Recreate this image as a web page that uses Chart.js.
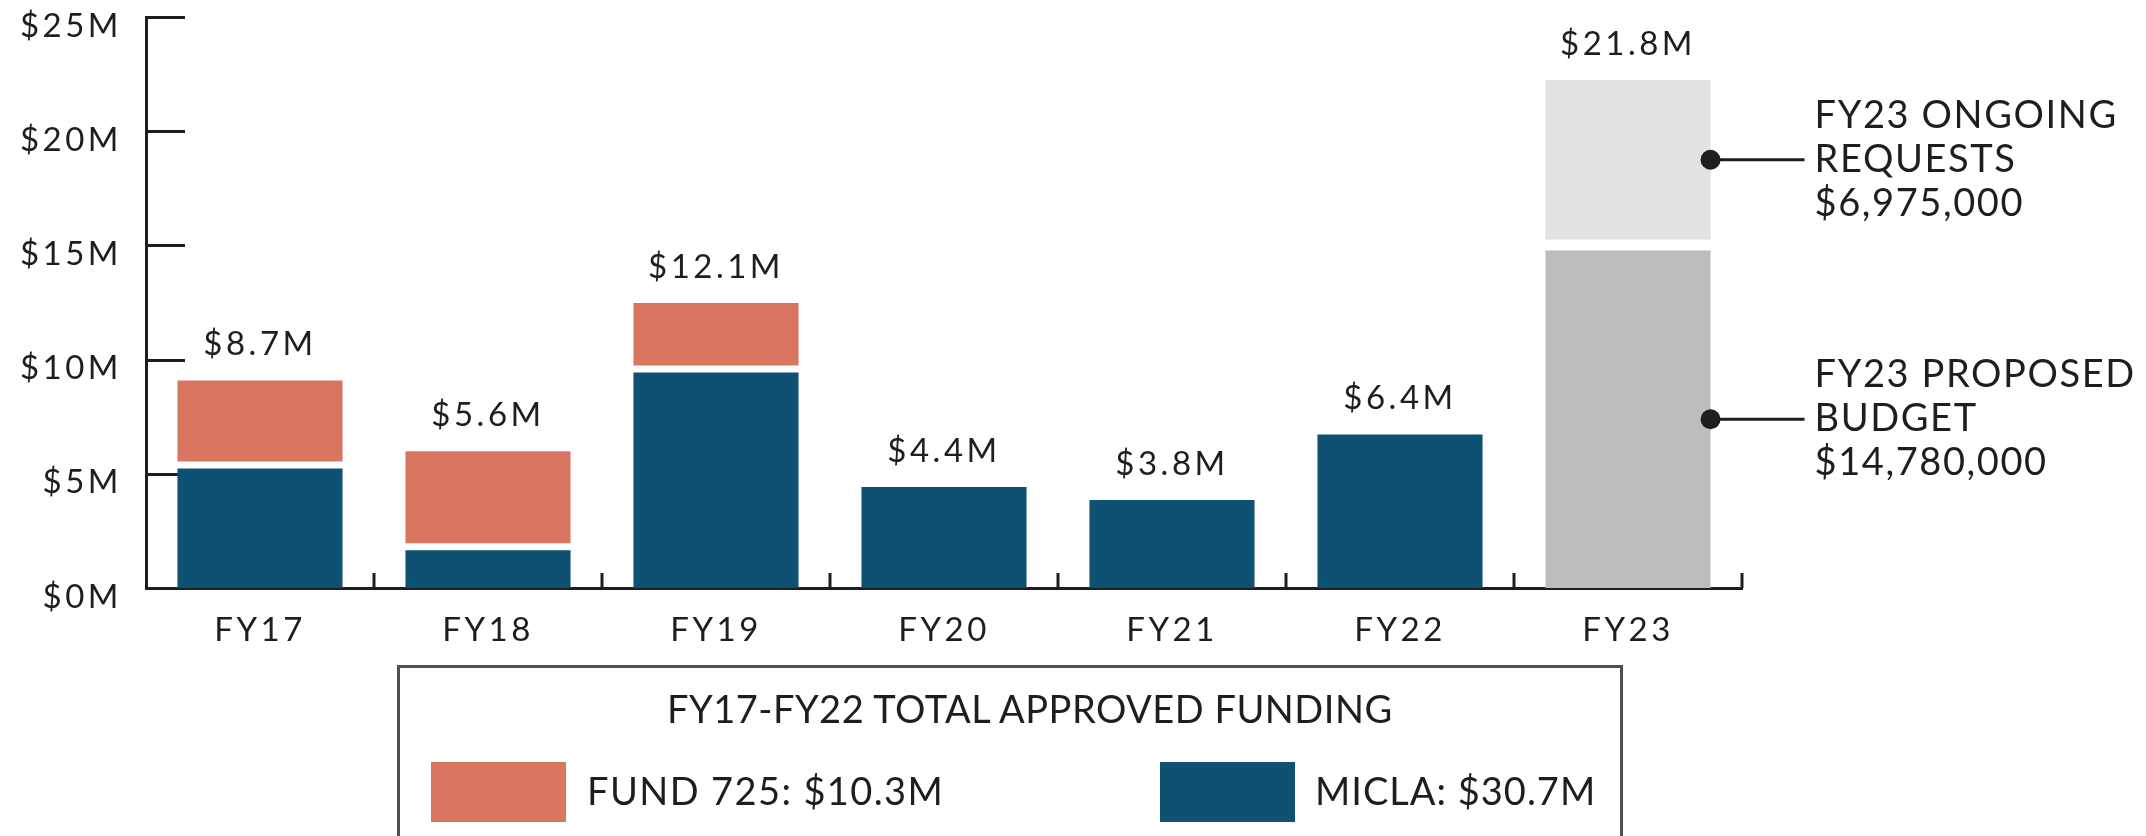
<!DOCTYPE html>
<html>
<head>
<meta charset="utf-8">
<script src="https://cdn.jsdelivr.net/npm/chart.js@4/dist/chart.umd.min.js"></script>
<style>
html,body{margin:0;padding:0;background:#fff;}
#wrap{position:relative;width:2146px;height:836px;overflow:hidden;background:#fff;}
#c{position:absolute;left:0;top:0;}
.box{position:absolute;left:397px;top:665px;width:1226px;height:320px;border:3px solid #4f4f4f;box-sizing:border-box;}
.lt{position:absolute;font-family:Lato,sans-serif;font-size:38px;line-height:38px;color:#1e1e1e;white-space:nowrap;}
.sw{position:absolute;width:135px;height:60px;}
</style>
</head>
<body>
<div id="wrap">
  <canvas id="c" width="2146" height="836"></canvas>
  <div class="box"></div>
  <div class="lt" id="lgTitle" style="left:667px;top:689px;letter-spacing:0.5px;"></div>
  <div class="sw" id="sw0" style="left:431px;top:762px;"></div>
  <div class="lt" id="lg0" style="left:587px;top:771px;letter-spacing:1.4px;"></div>
  <div class="sw" id="sw1" style="left:1160px;top:762px;"></div>
  <div class="lt" id="lg1" style="left:1315px;top:771px;letter-spacing:1px;"></div>
</div>
<script>
// ---- data ----
const categories = ["FY17", "FY18", "FY19", "FY20", "FY21", "FY22", "FY23"];
const miclaValues = [5.23, 1.65, 9.43, 4.42, 3.85, 6.72, null];
const fund725Values = [3.55, 4.03, 2.74, null, null, null, null];
const proposedValues = [null, null, null, null, null, null, 14.78];
const ongoingValues = [null, null, null, null, null, null, 6.975];
const totalLabels = ["$8.7M", "$5.6M", "$12.1M", "$4.4M", "$3.8M", "$6.4M", "$21.8M"];
const yTickLabels = ["$0M", "$5M", "$10M", "$15M", "$20M", "$25M"];
const legendTitle = "FY17-FY22 TOTAL APPROVED FUNDING";
const legendItems = ["FUND 725: $10.3M", "MICLA: $30.7M"];
const ongoingNote = ["FY23 ONGOING", "REQUESTS", "$6,975,000"];
const proposedNote = ["FY23 PROPOSED", "BUDGET", "$14,780,000"];

// ---- styles ----
const BLUE = '#0e5173', SALMON = '#da7562', GREY = '#bcbdbf', LIGHT = '#e1e2e4', INK = '#1e1e1e';

document.getElementById('lgTitle').textContent = legendTitle;
document.getElementById('lg0').textContent = legendItems[0];
document.getElementById('lg1').textContent = legendItems[1];
document.getElementById('sw0').style.background = SALMON;
document.getElementById('sw1').style.background = BLUE;

// lift upper stacked segments to leave a white gap
const liftPlugin = {
  id: 'lift',
  afterDatasetsUpdate(chart) {
    chart.data.datasets.forEach((ds, i) => {
      if (!ds.lift) return;
      chart.getDatasetMeta(i).data.forEach(el => { el.y -= ds.lift; el.base -= ds.lift; });
    });
  }
};

const tickPlugin = {
  id: 'ticksInside',
  beforeDraw(chart) { chart.ctx.letterSpacing = '3.5px'; },
  beforeDatasetsDraw(chart) {
    const ctx = chart.ctx, a = chart.chartArea, xs = chart.scales.x, ys = chart.scales.y;
    ctx.save();
    ctx.strokeStyle = INK; ctx.lineWidth = 3;
    ys.ticks.forEach(t => {
      const y = Math.round(ys.getPixelForValue(t.value)) + 0.5;
      ctx.beginPath(); ctx.moveTo(a.left, y); ctx.lineTo(a.left + 39, y); ctx.stroke();
    });
    const step = xs.getPixelForValue(1) - xs.getPixelForValue(0);
    for (let i = 0; i < categories.length; i++) {
      const bx = xs.getPixelForValue(i) + step / 2;
      ctx.beginPath(); ctx.moveTo(bx, a.bottom); ctx.lineTo(bx, a.bottom - 15); ctx.stroke();
    }
    ctx.restore();
  },
  afterDatasetsDraw(chart) {
    const ctx = chart.ctx;
    ctx.save();
    ctx.fillStyle = INK;
    ctx.font = '33px Lato';
    ctx.letterSpacing = '3.5px';
    ctx.textAlign = 'center';
    ctx.textBaseline = 'middle';
    for (let i = 0; i < categories.length; i++) {
      let top = Infinity, x = null;
      chart.data.datasets.forEach((ds, d) => {
        if (ds.data[i] == null) return;
        const el = chart.getDatasetMeta(d).data[i];
        if (el.y < top) { top = el.y; x = el.x; }
      });
      if (x !== null) ctx.fillText(totalLabels[i], x, top - 36);
    }
    // annotations for FY23
    const notes = [[3, ongoingNote], [2, proposedNote]];
    ctx.font = '38px Lato';
    ctx.letterSpacing = '1.6px';
    ctx.textAlign = 'left';
    notes.forEach(([d, lines]) => {
      const el = chart.getDatasetMeta(d).data[6];
      const mid = (el.y + el.base) / 2;
      const rx = el.x + el.width / 2;
      ctx.strokeStyle = INK; ctx.lineWidth = 3;
      ctx.beginPath(); ctx.moveTo(rx, mid); ctx.lineTo(rx + 94, mid); ctx.stroke();
      ctx.beginPath(); ctx.arc(rx, mid, 10, 0, Math.PI * 2); ctx.fill();
      lines.forEach((t, k) => ctx.fillText(t, rx + 104, mid + (k - 1) * 44));
    });
    ctx.restore();
  }
};

Chart.defaults.font.family = 'Lato';
Chart.defaults.color = INK;

new Chart(document.getElementById('c'), {
  type: 'bar',
  data: {
    labels: categories,
    datasets: [
      { label: 'MICLA', data: miclaValues, backgroundColor: BLUE },
      { label: 'Fund 725', data: fund725Values, backgroundColor: SALMON, lift: 7 },
      { label: 'FY23 Proposed Budget', data: proposedValues, backgroundColor: GREY },
      { label: 'FY23 Ongoing Requests', data: ongoingValues, backgroundColor: LIGHT, lift: 11 }
    ]
  },
  options: {
    responsive: false,
    animation: false,
    devicePixelRatio: 1,
    categoryPercentage: 1,
    barPercentage: 0.724,
    layout: { padding: { top: 17, right: 404, bottom: 0, left: 0 } },
    plugins: { legend: { display: false }, tooltip: { enabled: false } },
    scales: {
      x: {
        stacked: true, z: 1,
        grid: { display: false, drawTicks: false },
        border: { display: true, color: INK, width: 3 },
        ticks: { padding: 26, font: { size: 33, lineHeight: 1 }, color: INK },
        afterFit(s) { s.height = 836 - 588; s.paddingLeft = 0; s.paddingRight = 0; }
      },
      y: {
        stacked: true, min: 0, max: 25, z: 1,
        grid: { display: false, drawTicks: false },
        border: { display: true, color: INK, width: 3 },
        ticks: { stepSize: 5, padding: 24, labelOffset: 9, font: { size: 33, lineHeight: 1 }, color: INK,
                 callback: (v, i) => yTickLabels[i] },
        afterFit(s) { s.width = 146; s.paddingTop = 0; s.paddingBottom = 0; }
      }
    }
  },
  plugins: [liftPlugin, tickPlugin]
});
</script>
</body>
</html>
